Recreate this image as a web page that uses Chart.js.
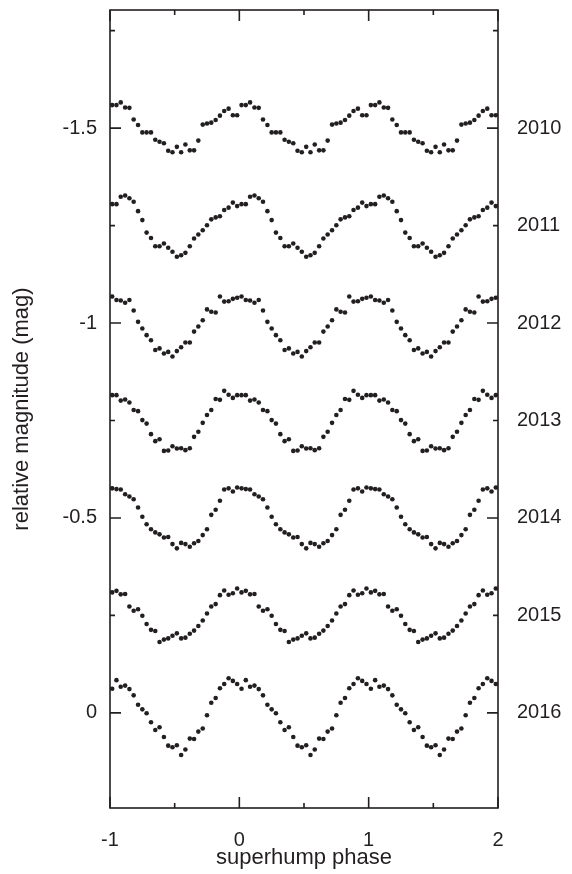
<!DOCTYPE html>
<html>
<head>
<meta charset="utf-8">
<script src="https://cdn.jsdelivr.net/npm/chart.js@4/dist/chart.umd.min.js"></script>
<style>
  html, body { margin: 0; padding: 0; background: #fff; }
  canvas { display: block; }
</style>
</head>
<body>
<canvas id="myChart" width="572" height="874"></canvas>
<script>
// phase bin centres of one superhump cycle
const phase = [0.017, 0.05, 0.083, 0.117, 0.15, 0.183, 0.217, 0.25, 0.283, 0.317,
               0.35, 0.383, 0.417, 0.45, 0.483, 0.517, 0.55, 0.583, 0.617, 0.65,
               0.683, 0.717, 0.75, 0.783, 0.817, 0.85, 0.883, 0.917, 0.95, 0.983];

// mean profiles (mag, relative to each season's level)
const prof2010 = [-0.059, -0.059, -0.066, -0.053, -0.052, -0.022, -0.008, 0.011, 0.011, 0.011,
                  0.030, 0.035, 0.039, 0.058, 0.062, 0.048, 0.062, 0.042, 0.057, 0.057,
                  0.032, -0.009, -0.012, -0.014, -0.021, -0.032, -0.044, -0.050, -0.033, -0.033];
const prof2011 = [-0.055, -0.055, -0.074, -0.077, -0.070, -0.061, -0.037, -0.014, 0.018, 0.032,
                  0.053, 0.053, 0.046, 0.057, 0.067, 0.080, 0.076, 0.070, 0.053, 0.033,
                  0.023, 0.012, -0.001, -0.016, -0.021, -0.024, -0.040, -0.046, -0.059, -0.050];
const prof2012 = [-0.068, -0.059, -0.058, -0.052, -0.059, -0.032, -0.003, 0.014, 0.031, 0.044,
                  0.069, 0.065, 0.078, 0.074, 0.086, 0.072, 0.062, 0.050, 0.050, 0.022,
                  0.009, -0.007, -0.035, -0.029, -0.027, -0.068, -0.055, -0.056, -0.062, -0.065];
const prof2013 = [-0.065, -0.065, -0.051, -0.054, -0.046, -0.027, -0.024, -0.001, 0.008, 0.035,
                  0.053, 0.048, 0.078, 0.077, 0.066, 0.072, 0.071, 0.076, 0.071, 0.042,
                  0.029, 0.006, -0.014, -0.027, -0.055, -0.053, -0.076, -0.066, -0.058, -0.065];
const prof2014 = [-0.076, -0.074, -0.073, -0.061, -0.055, -0.048, -0.027, -0.003, 0.016, 0.029,
                  0.037, 0.042, 0.050, 0.049, 0.067, 0.078, 0.064, 0.067, 0.074, 0.065,
                  0.059, 0.044, 0.029, -0.008, -0.021, -0.044, -0.073, -0.076, -0.068, -0.078];
const prof2015 = [-0.059, -0.063, -0.054, -0.055, -0.023, -0.012, -0.016, 0.001, 0.022, 0.037,
                  0.040, 0.068, 0.062, 0.059, 0.052, 0.046, 0.059, 0.057, 0.047, 0.039,
                  0.027, 0.013, -0.005, -0.023, -0.029, -0.052, -0.064, -0.053, -0.057, -0.069];
const prof2016 = [-0.062, -0.084, -0.067, -0.070, -0.061, -0.045, -0.021, -0.009, 0.001, 0.024,
                  0.044, 0.037, 0.062, 0.084, 0.088, 0.083, 0.108, 0.094, 0.066, 0.067,
                  0.048, 0.040, 0.006, -0.026, -0.038, -0.063, -0.074, -0.089, -0.082, -0.074];

const years = ['2010', '2011', '2012', '2013', '2014', '2015', '2016'];
const offsets = [-1.5, -1.25, -1.0, -0.75, -0.5, -0.25, 0];
const profiles = [prof2010, prof2011, prof2012, prof2013, prof2014, prof2015, prof2016];
const cycles = [-1, 0, 1];

const xMajor = [-1, 0, 1, 2];
const xMinor = [-0.5, 0.5, 1.5];
const yMajor = [-1.5, -1, -0.5, 0];
const yMinor = [-1.75, -1.25, -0.75, -0.25];

const ink = '#231f20';
const family = "'Liberation Sans', Arial, Helvetica, sans-serif";
const font = { family: family, size: 20 };
const titleFont = { family: family, size: 22 };

let datasets = profiles.map((prof, k) => {
    let pts = [];
    cycles.forEach(c => {
        prof.forEach((m, i) => pts.push({ x: phase[i] + c, y: offsets[k] + m }));
    });
    return {
        label: years[k],
        data: pts,
        pointRadius: 2.3,
        pointBackgroundColor: ink,
        pointBorderWidth: 0,
        showLine: false
    };
});

// box frame with inward ticks on all four sides (mirrored)
let frameTicks = {
    id: 'frameTicks',
    afterDatasetsDraw(chart) {
        let ctx = chart.ctx;
        let a = chart.chartArea;
        let xs = chart.scales.x, ys = chart.scales.y;
        ctx.save();
        ctx.strokeStyle = ink;
        ctx.lineWidth = 1.6;
        ctx.strokeRect(a.left, a.top, a.right - a.left, a.bottom - a.top);
        let tick = (vals, len, horiz) => {
            vals.forEach(v => {
                ctx.beginPath();
                if (horiz) {
                    let px = xs.getPixelForValue(v);
                    ctx.moveTo(px, a.bottom); ctx.lineTo(px, a.bottom - len);
                    ctx.moveTo(px, a.top); ctx.lineTo(px, a.top + len);
                } else {
                    let py = ys.getPixelForValue(v);
                    ctx.moveTo(a.left, py); ctx.lineTo(a.left + len, py);
                    ctx.moveTo(a.right, py); ctx.lineTo(a.right - len, py);
                }
                ctx.stroke();
            });
        };
        tick(xMajor, 11, true);
        tick(xMinor, 5, true);
        tick(yMajor, 11, false);
        tick(yMinor, 5, false);
        ctx.restore();
    }
};

// vertical axes: fixed width, no extra room for half labels
let fitVertical = w => s => {
    s.width = w;
    s.paddingTop = 0;
    s.paddingBottom = 0;
};

let ctx = document.getElementById('myChart').getContext('2d');
let chart = new Chart(ctx, {
    type: 'scatter',
    data: { datasets: datasets },
    plugins: [frameTicks],
    options: {
        responsive: false,
        animation: false,
        devicePixelRatio: 1,
        layout: { padding: { top: 10, left: 0, right: 0, bottom: 0 } },
        plugins: { legend: { display: false }, tooltip: { enabled: false } },
        scales: {
            x: {
                type: 'linear',
                position: 'bottom',
                min: -1,
                max: 2,
                afterBuildTicks: s => { s.ticks = xMajor.map(v => ({ value: v })); },
                afterFit: s => { s.height = 66; s.paddingLeft = 0; s.paddingRight = 0; },
                grid: { display: false, drawTicks: false },
                border: { display: false },
                ticks: { font: font, color: ink, padding: 20, maxRotation: 0,
                         callback: v => String(v) },
                title: { display: true, text: 'superhump phase', font: titleFont, color: ink,
                         padding: { top: 0, bottom: 3 } }
            },
            y: {
                type: 'linear',
                position: 'left',
                min: -1.803,
                max: 0.244,
                reverse: true,
                afterBuildTicks: s => { s.ticks = yMajor.map(v => ({ value: v })); },
                afterFit: fitVertical(110),
                grid: { display: false, drawTicks: false },
                border: { display: false },
                ticks: { font: font, color: ink, padding: 13, callback: v => String(v) },
                title: { display: true, text: 'relative magnitude (mag)', font: titleFont, color: ink,
                         padding: { top: 9, bottom: 0 } }
            },
            yr: {
                type: 'linear',
                position: 'right',
                min: -1.803,
                max: 0.244,
                reverse: true,
                afterBuildTicks: s => { s.ticks = offsets.map(v => ({ value: v })); },
                afterFit: fitVertical(74),
                grid: { display: false, drawTicks: false },
                border: { display: false },
                ticks: {
                    font: font, color: ink, padding: 19,
                    callback: (v, i) => years[i]
                }
            }
        }
    }
});
</script>
</body>
</html>
